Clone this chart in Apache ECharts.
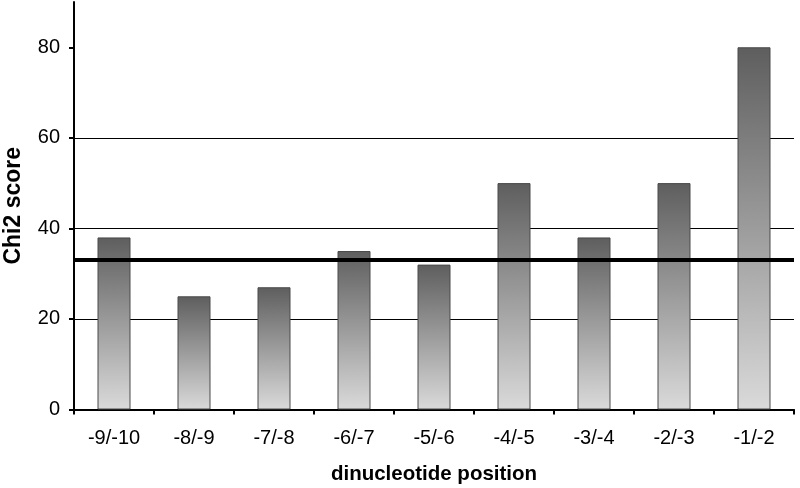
<!DOCTYPE html>
<html>
<head>
<meta charset="utf-8">
<script src="https://cdn.jsdelivr.net/npm/echarts@6/dist/echarts.min.js"></script>
<style>html,body{margin:0;padding:0;background:#fff}#c{width:800px;height:488px}</style>
</head>
<body>
<div id="c"></div>
<script>
const categories = ['-9/-10', '-8/-9', '-7/-8', '-6/-7', '-5/-6', '-4/-5', '-3/-4', '-2/-3', '-1/-2'];
const chi2Scores = [38, 25, 27, 35, 32, 50, 38, 50, 80];
const threshold = 33.1;
const yTicks = [0, 20, 40, 60, 80];

const chart = echarts.init(document.getElementById('c'), null, {renderer: 'canvas'});
const font = 'Liberation Sans, Arial, sans-serif';
chart.setOption({
  animation: false,
  backgroundColor: '#fff',
  grid: {left: 74, right: 6, top: 2, bottom: 78.5, containLabel: false, outerBoundsMode: 'none'},
  xAxis: {
    type: 'category',
    data: categories,
    name: 'dinucleotide position',
    nameLocation: 'middle',
    nameGap: 54,
    nameTextStyle: {fontFamily: font, fontSize: 20.5, fontWeight: 'bold', color: '#000'},
    axisLine: {lineStyle: {color: '#000', width: 2}},
    axisTick: {show: true, length: 5, lineStyle: {color: '#000', width: 2}},
    axisLabel: {fontFamily: font, fontSize: 20, color: '#000', margin: 19},
    splitLine: {show: false}
  },
  yAxis: {
    type: 'value',
    min: 0,
    max: 90,
    interval: 20,
    name: 'Chi2 score',
    nameLocation: 'middle',
    nameGap: 49,
    nameTextStyle: {fontFamily: font, fontSize: 23, fontWeight: 'bold', color: '#000'},
    axisLine: {show: true, lineStyle: {color: '#000', width: 2}},
    axisTick: {show: true, length: 5, customValues: yTicks, lineStyle: {color: '#000', width: 2}},
    axisLabel: {fontFamily: font, fontSize: 20, color: '#000', margin: 14, customValues: yTicks},
    splitLine: {show: true, showMaxLine: false, lineStyle: {color: '#000', width: 1}}
  },
  series: [{
    type: 'bar',
    data: chi2Scores,
    barWidth: 33,
    itemStyle: {
      color: new echarts.graphic.LinearGradient(0, 0, 0, 1, [
        {offset: 0, color: '#5e5e5e'},
        {offset: 1, color: '#dadada'}
      ]),
      borderColor: '#4a4a4a',
      borderWidth: 1
    },
    markLine: {
      silent: true,
      symbol: 'none',
      label: {show: false},
      lineStyle: {color: '#000', width: 4, type: 'solid'},
      data: [{yAxis: threshold}]
    }
  }]
});
</script>
</body>
</html>
